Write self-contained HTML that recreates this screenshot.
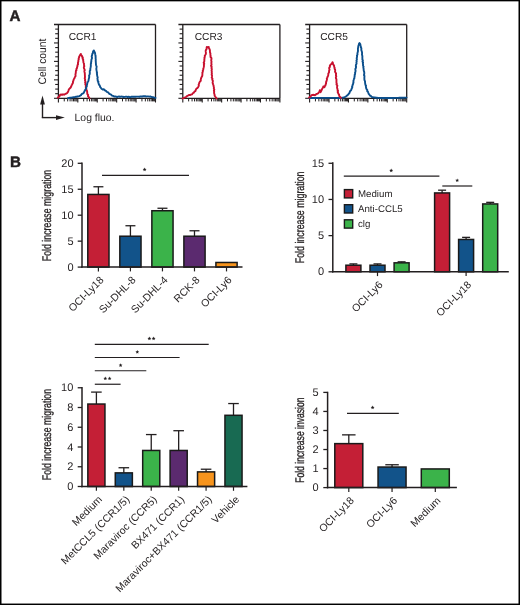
<!DOCTYPE html>
<html><head><meta charset="utf-8"><style>
html,body{margin:0;padding:0;background:#fff;}
body{width:520px;height:605px;overflow:hidden;}
svg{display:block;font-family:"Liberation Sans", sans-serif;}
svg{will-change:transform;}
text{text-rendering:geometricPrecision;}
</style></head><body>
<svg width="520" height="605" viewBox="0 0 520 605">
<rect x="0" y="0" width="520" height="605" fill="#fff"/>
<text x="9.60" y="21.30" font-size="15.2" text-anchor="start" font-weight="bold" fill="#231f20" stroke="#231f20" stroke-width="0.45">A</text>
<line x1="54.00" y1="24.50" x2="155.50" y2="24.50" stroke="#231f20" stroke-width="1.3"/>
<line x1="58.40" y1="24.50" x2="58.40" y2="98.30" stroke="#231f20" stroke-width="1.3"/>
<line x1="155.50" y1="24.50" x2="155.50" y2="98.30" stroke="#231f20" stroke-width="1.3"/>
<line x1="58.40" y1="98.30" x2="155.50" y2="98.30" stroke="#231f20" stroke-width="1.3"/>
<line x1="55.20" y1="29.11" x2="58.40" y2="29.11" stroke="#231f20" stroke-width="1.1"/>
<line x1="55.20" y1="33.73" x2="58.40" y2="33.73" stroke="#231f20" stroke-width="1.1"/>
<line x1="55.20" y1="38.34" x2="58.40" y2="38.34" stroke="#231f20" stroke-width="1.1"/>
<line x1="54.00" y1="42.95" x2="58.40" y2="42.95" stroke="#231f20" stroke-width="1.1"/>
<line x1="55.20" y1="47.56" x2="58.40" y2="47.56" stroke="#231f20" stroke-width="1.1"/>
<line x1="55.20" y1="52.17" x2="58.40" y2="52.17" stroke="#231f20" stroke-width="1.1"/>
<line x1="55.20" y1="56.79" x2="58.40" y2="56.79" stroke="#231f20" stroke-width="1.1"/>
<line x1="54.00" y1="61.40" x2="58.40" y2="61.40" stroke="#231f20" stroke-width="1.1"/>
<line x1="55.20" y1="66.01" x2="58.40" y2="66.01" stroke="#231f20" stroke-width="1.1"/>
<line x1="55.20" y1="70.62" x2="58.40" y2="70.62" stroke="#231f20" stroke-width="1.1"/>
<line x1="55.20" y1="75.24" x2="58.40" y2="75.24" stroke="#231f20" stroke-width="1.1"/>
<line x1="54.00" y1="79.85" x2="58.40" y2="79.85" stroke="#231f20" stroke-width="1.1"/>
<line x1="55.20" y1="84.46" x2="58.40" y2="84.46" stroke="#231f20" stroke-width="1.1"/>
<line x1="55.20" y1="89.08" x2="58.40" y2="89.08" stroke="#231f20" stroke-width="1.1"/>
<line x1="55.20" y1="93.69" x2="58.40" y2="93.69" stroke="#231f20" stroke-width="1.1"/>
<line x1="54.00" y1="98.30" x2="58.40" y2="98.30" stroke="#231f20" stroke-width="1.1"/>
<line x1="58.40" y1="98.30" x2="58.40" y2="102.50" stroke="#231f20" stroke-width="1.1"/>
<line x1="64.25" y1="98.30" x2="64.25" y2="101.40" stroke="#231f20" stroke-width="1.0"/>
<line x1="67.67" y1="98.30" x2="67.67" y2="101.40" stroke="#231f20" stroke-width="1.0"/>
<line x1="70.09" y1="98.30" x2="70.09" y2="101.40" stroke="#231f20" stroke-width="1.0"/>
<line x1="71.97" y1="98.30" x2="71.97" y2="101.40" stroke="#231f20" stroke-width="1.0"/>
<line x1="73.51" y1="98.30" x2="73.51" y2="101.40" stroke="#231f20" stroke-width="1.0"/>
<line x1="74.81" y1="98.30" x2="74.81" y2="101.40" stroke="#231f20" stroke-width="1.0"/>
<line x1="75.94" y1="98.30" x2="75.94" y2="101.40" stroke="#231f20" stroke-width="1.0"/>
<line x1="76.93" y1="98.30" x2="76.93" y2="101.40" stroke="#231f20" stroke-width="1.0"/>
<line x1="77.82" y1="98.30" x2="77.82" y2="102.50" stroke="#231f20" stroke-width="1.1"/>
<line x1="83.67" y1="98.30" x2="83.67" y2="101.40" stroke="#231f20" stroke-width="1.0"/>
<line x1="87.09" y1="98.30" x2="87.09" y2="101.40" stroke="#231f20" stroke-width="1.0"/>
<line x1="89.51" y1="98.30" x2="89.51" y2="101.40" stroke="#231f20" stroke-width="1.0"/>
<line x1="91.39" y1="98.30" x2="91.39" y2="101.40" stroke="#231f20" stroke-width="1.0"/>
<line x1="92.93" y1="98.30" x2="92.93" y2="101.40" stroke="#231f20" stroke-width="1.0"/>
<line x1="94.23" y1="98.30" x2="94.23" y2="101.40" stroke="#231f20" stroke-width="1.0"/>
<line x1="95.36" y1="98.30" x2="95.36" y2="101.40" stroke="#231f20" stroke-width="1.0"/>
<line x1="96.35" y1="98.30" x2="96.35" y2="101.40" stroke="#231f20" stroke-width="1.0"/>
<line x1="97.24" y1="98.30" x2="97.24" y2="102.50" stroke="#231f20" stroke-width="1.1"/>
<line x1="103.09" y1="98.30" x2="103.09" y2="101.40" stroke="#231f20" stroke-width="1.0"/>
<line x1="106.51" y1="98.30" x2="106.51" y2="101.40" stroke="#231f20" stroke-width="1.0"/>
<line x1="108.93" y1="98.30" x2="108.93" y2="101.40" stroke="#231f20" stroke-width="1.0"/>
<line x1="110.81" y1="98.30" x2="110.81" y2="101.40" stroke="#231f20" stroke-width="1.0"/>
<line x1="112.35" y1="98.30" x2="112.35" y2="101.40" stroke="#231f20" stroke-width="1.0"/>
<line x1="113.65" y1="98.30" x2="113.65" y2="101.40" stroke="#231f20" stroke-width="1.0"/>
<line x1="114.78" y1="98.30" x2="114.78" y2="101.40" stroke="#231f20" stroke-width="1.0"/>
<line x1="115.77" y1="98.30" x2="115.77" y2="101.40" stroke="#231f20" stroke-width="1.0"/>
<line x1="116.66" y1="98.30" x2="116.66" y2="102.50" stroke="#231f20" stroke-width="1.1"/>
<line x1="122.51" y1="98.30" x2="122.51" y2="101.40" stroke="#231f20" stroke-width="1.0"/>
<line x1="125.93" y1="98.30" x2="125.93" y2="101.40" stroke="#231f20" stroke-width="1.0"/>
<line x1="128.35" y1="98.30" x2="128.35" y2="101.40" stroke="#231f20" stroke-width="1.0"/>
<line x1="130.23" y1="98.30" x2="130.23" y2="101.40" stroke="#231f20" stroke-width="1.0"/>
<line x1="131.77" y1="98.30" x2="131.77" y2="101.40" stroke="#231f20" stroke-width="1.0"/>
<line x1="133.07" y1="98.30" x2="133.07" y2="101.40" stroke="#231f20" stroke-width="1.0"/>
<line x1="134.20" y1="98.30" x2="134.20" y2="101.40" stroke="#231f20" stroke-width="1.0"/>
<line x1="135.19" y1="98.30" x2="135.19" y2="101.40" stroke="#231f20" stroke-width="1.0"/>
<line x1="136.08" y1="98.30" x2="136.08" y2="102.50" stroke="#231f20" stroke-width="1.1"/>
<line x1="141.93" y1="98.30" x2="141.93" y2="101.40" stroke="#231f20" stroke-width="1.0"/>
<line x1="145.35" y1="98.30" x2="145.35" y2="101.40" stroke="#231f20" stroke-width="1.0"/>
<line x1="147.77" y1="98.30" x2="147.77" y2="101.40" stroke="#231f20" stroke-width="1.0"/>
<line x1="149.65" y1="98.30" x2="149.65" y2="101.40" stroke="#231f20" stroke-width="1.0"/>
<line x1="151.19" y1="98.30" x2="151.19" y2="101.40" stroke="#231f20" stroke-width="1.0"/>
<line x1="152.49" y1="98.30" x2="152.49" y2="101.40" stroke="#231f20" stroke-width="1.0"/>
<line x1="153.62" y1="98.30" x2="153.62" y2="101.40" stroke="#231f20" stroke-width="1.0"/>
<line x1="154.61" y1="98.30" x2="154.61" y2="101.40" stroke="#231f20" stroke-width="1.0"/>
<line x1="155.50" y1="98.30" x2="155.50" y2="102.50" stroke="#231f20" stroke-width="1.1"/>
<line x1="178.40" y1="24.50" x2="279.90" y2="24.50" stroke="#231f20" stroke-width="1.3"/>
<line x1="182.80" y1="24.50" x2="182.80" y2="98.30" stroke="#231f20" stroke-width="1.3"/>
<line x1="279.90" y1="24.50" x2="279.90" y2="98.30" stroke="#231f20" stroke-width="1.3"/>
<line x1="182.80" y1="98.30" x2="279.90" y2="98.30" stroke="#231f20" stroke-width="1.3"/>
<line x1="179.60" y1="29.11" x2="182.80" y2="29.11" stroke="#231f20" stroke-width="1.1"/>
<line x1="179.60" y1="33.73" x2="182.80" y2="33.73" stroke="#231f20" stroke-width="1.1"/>
<line x1="179.60" y1="38.34" x2="182.80" y2="38.34" stroke="#231f20" stroke-width="1.1"/>
<line x1="178.40" y1="42.95" x2="182.80" y2="42.95" stroke="#231f20" stroke-width="1.1"/>
<line x1="179.60" y1="47.56" x2="182.80" y2="47.56" stroke="#231f20" stroke-width="1.1"/>
<line x1="179.60" y1="52.17" x2="182.80" y2="52.17" stroke="#231f20" stroke-width="1.1"/>
<line x1="179.60" y1="56.79" x2="182.80" y2="56.79" stroke="#231f20" stroke-width="1.1"/>
<line x1="178.40" y1="61.40" x2="182.80" y2="61.40" stroke="#231f20" stroke-width="1.1"/>
<line x1="179.60" y1="66.01" x2="182.80" y2="66.01" stroke="#231f20" stroke-width="1.1"/>
<line x1="179.60" y1="70.62" x2="182.80" y2="70.62" stroke="#231f20" stroke-width="1.1"/>
<line x1="179.60" y1="75.24" x2="182.80" y2="75.24" stroke="#231f20" stroke-width="1.1"/>
<line x1="178.40" y1="79.85" x2="182.80" y2="79.85" stroke="#231f20" stroke-width="1.1"/>
<line x1="179.60" y1="84.46" x2="182.80" y2="84.46" stroke="#231f20" stroke-width="1.1"/>
<line x1="179.60" y1="89.08" x2="182.80" y2="89.08" stroke="#231f20" stroke-width="1.1"/>
<line x1="179.60" y1="93.69" x2="182.80" y2="93.69" stroke="#231f20" stroke-width="1.1"/>
<line x1="178.40" y1="98.30" x2="182.80" y2="98.30" stroke="#231f20" stroke-width="1.1"/>
<line x1="182.80" y1="98.30" x2="182.80" y2="102.50" stroke="#231f20" stroke-width="1.1"/>
<line x1="188.65" y1="98.30" x2="188.65" y2="101.40" stroke="#231f20" stroke-width="1.0"/>
<line x1="192.07" y1="98.30" x2="192.07" y2="101.40" stroke="#231f20" stroke-width="1.0"/>
<line x1="194.49" y1="98.30" x2="194.49" y2="101.40" stroke="#231f20" stroke-width="1.0"/>
<line x1="196.37" y1="98.30" x2="196.37" y2="101.40" stroke="#231f20" stroke-width="1.0"/>
<line x1="197.91" y1="98.30" x2="197.91" y2="101.40" stroke="#231f20" stroke-width="1.0"/>
<line x1="199.21" y1="98.30" x2="199.21" y2="101.40" stroke="#231f20" stroke-width="1.0"/>
<line x1="200.34" y1="98.30" x2="200.34" y2="101.40" stroke="#231f20" stroke-width="1.0"/>
<line x1="201.33" y1="98.30" x2="201.33" y2="101.40" stroke="#231f20" stroke-width="1.0"/>
<line x1="202.22" y1="98.30" x2="202.22" y2="102.50" stroke="#231f20" stroke-width="1.1"/>
<line x1="208.07" y1="98.30" x2="208.07" y2="101.40" stroke="#231f20" stroke-width="1.0"/>
<line x1="211.49" y1="98.30" x2="211.49" y2="101.40" stroke="#231f20" stroke-width="1.0"/>
<line x1="213.91" y1="98.30" x2="213.91" y2="101.40" stroke="#231f20" stroke-width="1.0"/>
<line x1="215.79" y1="98.30" x2="215.79" y2="101.40" stroke="#231f20" stroke-width="1.0"/>
<line x1="217.33" y1="98.30" x2="217.33" y2="101.40" stroke="#231f20" stroke-width="1.0"/>
<line x1="218.63" y1="98.30" x2="218.63" y2="101.40" stroke="#231f20" stroke-width="1.0"/>
<line x1="219.76" y1="98.30" x2="219.76" y2="101.40" stroke="#231f20" stroke-width="1.0"/>
<line x1="220.75" y1="98.30" x2="220.75" y2="101.40" stroke="#231f20" stroke-width="1.0"/>
<line x1="221.64" y1="98.30" x2="221.64" y2="102.50" stroke="#231f20" stroke-width="1.1"/>
<line x1="227.49" y1="98.30" x2="227.49" y2="101.40" stroke="#231f20" stroke-width="1.0"/>
<line x1="230.91" y1="98.30" x2="230.91" y2="101.40" stroke="#231f20" stroke-width="1.0"/>
<line x1="233.33" y1="98.30" x2="233.33" y2="101.40" stroke="#231f20" stroke-width="1.0"/>
<line x1="235.21" y1="98.30" x2="235.21" y2="101.40" stroke="#231f20" stroke-width="1.0"/>
<line x1="236.75" y1="98.30" x2="236.75" y2="101.40" stroke="#231f20" stroke-width="1.0"/>
<line x1="238.05" y1="98.30" x2="238.05" y2="101.40" stroke="#231f20" stroke-width="1.0"/>
<line x1="239.18" y1="98.30" x2="239.18" y2="101.40" stroke="#231f20" stroke-width="1.0"/>
<line x1="240.17" y1="98.30" x2="240.17" y2="101.40" stroke="#231f20" stroke-width="1.0"/>
<line x1="241.06" y1="98.30" x2="241.06" y2="102.50" stroke="#231f20" stroke-width="1.1"/>
<line x1="246.91" y1="98.30" x2="246.91" y2="101.40" stroke="#231f20" stroke-width="1.0"/>
<line x1="250.33" y1="98.30" x2="250.33" y2="101.40" stroke="#231f20" stroke-width="1.0"/>
<line x1="252.75" y1="98.30" x2="252.75" y2="101.40" stroke="#231f20" stroke-width="1.0"/>
<line x1="254.63" y1="98.30" x2="254.63" y2="101.40" stroke="#231f20" stroke-width="1.0"/>
<line x1="256.17" y1="98.30" x2="256.17" y2="101.40" stroke="#231f20" stroke-width="1.0"/>
<line x1="257.47" y1="98.30" x2="257.47" y2="101.40" stroke="#231f20" stroke-width="1.0"/>
<line x1="258.60" y1="98.30" x2="258.60" y2="101.40" stroke="#231f20" stroke-width="1.0"/>
<line x1="259.59" y1="98.30" x2="259.59" y2="101.40" stroke="#231f20" stroke-width="1.0"/>
<line x1="260.48" y1="98.30" x2="260.48" y2="102.50" stroke="#231f20" stroke-width="1.1"/>
<line x1="266.33" y1="98.30" x2="266.33" y2="101.40" stroke="#231f20" stroke-width="1.0"/>
<line x1="269.75" y1="98.30" x2="269.75" y2="101.40" stroke="#231f20" stroke-width="1.0"/>
<line x1="272.17" y1="98.30" x2="272.17" y2="101.40" stroke="#231f20" stroke-width="1.0"/>
<line x1="274.05" y1="98.30" x2="274.05" y2="101.40" stroke="#231f20" stroke-width="1.0"/>
<line x1="275.59" y1="98.30" x2="275.59" y2="101.40" stroke="#231f20" stroke-width="1.0"/>
<line x1="276.89" y1="98.30" x2="276.89" y2="101.40" stroke="#231f20" stroke-width="1.0"/>
<line x1="278.02" y1="98.30" x2="278.02" y2="101.40" stroke="#231f20" stroke-width="1.0"/>
<line x1="279.01" y1="98.30" x2="279.01" y2="101.40" stroke="#231f20" stroke-width="1.0"/>
<line x1="279.90" y1="98.30" x2="279.90" y2="102.50" stroke="#231f20" stroke-width="1.1"/>
<line x1="305.20" y1="24.50" x2="406.70" y2="24.50" stroke="#231f20" stroke-width="1.3"/>
<line x1="309.60" y1="24.50" x2="309.60" y2="98.30" stroke="#231f20" stroke-width="1.3"/>
<line x1="406.70" y1="24.50" x2="406.70" y2="98.30" stroke="#231f20" stroke-width="1.3"/>
<line x1="309.60" y1="98.30" x2="406.70" y2="98.30" stroke="#231f20" stroke-width="1.3"/>
<line x1="306.40" y1="29.11" x2="309.60" y2="29.11" stroke="#231f20" stroke-width="1.1"/>
<line x1="306.40" y1="33.73" x2="309.60" y2="33.73" stroke="#231f20" stroke-width="1.1"/>
<line x1="306.40" y1="38.34" x2="309.60" y2="38.34" stroke="#231f20" stroke-width="1.1"/>
<line x1="305.20" y1="42.95" x2="309.60" y2="42.95" stroke="#231f20" stroke-width="1.1"/>
<line x1="306.40" y1="47.56" x2="309.60" y2="47.56" stroke="#231f20" stroke-width="1.1"/>
<line x1="306.40" y1="52.17" x2="309.60" y2="52.17" stroke="#231f20" stroke-width="1.1"/>
<line x1="306.40" y1="56.79" x2="309.60" y2="56.79" stroke="#231f20" stroke-width="1.1"/>
<line x1="305.20" y1="61.40" x2="309.60" y2="61.40" stroke="#231f20" stroke-width="1.1"/>
<line x1="306.40" y1="66.01" x2="309.60" y2="66.01" stroke="#231f20" stroke-width="1.1"/>
<line x1="306.40" y1="70.62" x2="309.60" y2="70.62" stroke="#231f20" stroke-width="1.1"/>
<line x1="306.40" y1="75.24" x2="309.60" y2="75.24" stroke="#231f20" stroke-width="1.1"/>
<line x1="305.20" y1="79.85" x2="309.60" y2="79.85" stroke="#231f20" stroke-width="1.1"/>
<line x1="306.40" y1="84.46" x2="309.60" y2="84.46" stroke="#231f20" stroke-width="1.1"/>
<line x1="306.40" y1="89.08" x2="309.60" y2="89.08" stroke="#231f20" stroke-width="1.1"/>
<line x1="306.40" y1="93.69" x2="309.60" y2="93.69" stroke="#231f20" stroke-width="1.1"/>
<line x1="305.20" y1="98.30" x2="309.60" y2="98.30" stroke="#231f20" stroke-width="1.1"/>
<line x1="309.60" y1="98.30" x2="309.60" y2="102.50" stroke="#231f20" stroke-width="1.1"/>
<line x1="315.45" y1="98.30" x2="315.45" y2="101.40" stroke="#231f20" stroke-width="1.0"/>
<line x1="318.87" y1="98.30" x2="318.87" y2="101.40" stroke="#231f20" stroke-width="1.0"/>
<line x1="321.29" y1="98.30" x2="321.29" y2="101.40" stroke="#231f20" stroke-width="1.0"/>
<line x1="323.17" y1="98.30" x2="323.17" y2="101.40" stroke="#231f20" stroke-width="1.0"/>
<line x1="324.71" y1="98.30" x2="324.71" y2="101.40" stroke="#231f20" stroke-width="1.0"/>
<line x1="326.01" y1="98.30" x2="326.01" y2="101.40" stroke="#231f20" stroke-width="1.0"/>
<line x1="327.14" y1="98.30" x2="327.14" y2="101.40" stroke="#231f20" stroke-width="1.0"/>
<line x1="328.13" y1="98.30" x2="328.13" y2="101.40" stroke="#231f20" stroke-width="1.0"/>
<line x1="329.02" y1="98.30" x2="329.02" y2="102.50" stroke="#231f20" stroke-width="1.1"/>
<line x1="334.87" y1="98.30" x2="334.87" y2="101.40" stroke="#231f20" stroke-width="1.0"/>
<line x1="338.29" y1="98.30" x2="338.29" y2="101.40" stroke="#231f20" stroke-width="1.0"/>
<line x1="340.71" y1="98.30" x2="340.71" y2="101.40" stroke="#231f20" stroke-width="1.0"/>
<line x1="342.59" y1="98.30" x2="342.59" y2="101.40" stroke="#231f20" stroke-width="1.0"/>
<line x1="344.13" y1="98.30" x2="344.13" y2="101.40" stroke="#231f20" stroke-width="1.0"/>
<line x1="345.43" y1="98.30" x2="345.43" y2="101.40" stroke="#231f20" stroke-width="1.0"/>
<line x1="346.56" y1="98.30" x2="346.56" y2="101.40" stroke="#231f20" stroke-width="1.0"/>
<line x1="347.55" y1="98.30" x2="347.55" y2="101.40" stroke="#231f20" stroke-width="1.0"/>
<line x1="348.44" y1="98.30" x2="348.44" y2="102.50" stroke="#231f20" stroke-width="1.1"/>
<line x1="354.29" y1="98.30" x2="354.29" y2="101.40" stroke="#231f20" stroke-width="1.0"/>
<line x1="357.71" y1="98.30" x2="357.71" y2="101.40" stroke="#231f20" stroke-width="1.0"/>
<line x1="360.13" y1="98.30" x2="360.13" y2="101.40" stroke="#231f20" stroke-width="1.0"/>
<line x1="362.01" y1="98.30" x2="362.01" y2="101.40" stroke="#231f20" stroke-width="1.0"/>
<line x1="363.55" y1="98.30" x2="363.55" y2="101.40" stroke="#231f20" stroke-width="1.0"/>
<line x1="364.85" y1="98.30" x2="364.85" y2="101.40" stroke="#231f20" stroke-width="1.0"/>
<line x1="365.98" y1="98.30" x2="365.98" y2="101.40" stroke="#231f20" stroke-width="1.0"/>
<line x1="366.97" y1="98.30" x2="366.97" y2="101.40" stroke="#231f20" stroke-width="1.0"/>
<line x1="367.86" y1="98.30" x2="367.86" y2="102.50" stroke="#231f20" stroke-width="1.1"/>
<line x1="373.71" y1="98.30" x2="373.71" y2="101.40" stroke="#231f20" stroke-width="1.0"/>
<line x1="377.13" y1="98.30" x2="377.13" y2="101.40" stroke="#231f20" stroke-width="1.0"/>
<line x1="379.55" y1="98.30" x2="379.55" y2="101.40" stroke="#231f20" stroke-width="1.0"/>
<line x1="381.43" y1="98.30" x2="381.43" y2="101.40" stroke="#231f20" stroke-width="1.0"/>
<line x1="382.97" y1="98.30" x2="382.97" y2="101.40" stroke="#231f20" stroke-width="1.0"/>
<line x1="384.27" y1="98.30" x2="384.27" y2="101.40" stroke="#231f20" stroke-width="1.0"/>
<line x1="385.40" y1="98.30" x2="385.40" y2="101.40" stroke="#231f20" stroke-width="1.0"/>
<line x1="386.39" y1="98.30" x2="386.39" y2="101.40" stroke="#231f20" stroke-width="1.0"/>
<line x1="387.28" y1="98.30" x2="387.28" y2="102.50" stroke="#231f20" stroke-width="1.1"/>
<line x1="393.13" y1="98.30" x2="393.13" y2="101.40" stroke="#231f20" stroke-width="1.0"/>
<line x1="396.55" y1="98.30" x2="396.55" y2="101.40" stroke="#231f20" stroke-width="1.0"/>
<line x1="398.97" y1="98.30" x2="398.97" y2="101.40" stroke="#231f20" stroke-width="1.0"/>
<line x1="400.85" y1="98.30" x2="400.85" y2="101.40" stroke="#231f20" stroke-width="1.0"/>
<line x1="402.39" y1="98.30" x2="402.39" y2="101.40" stroke="#231f20" stroke-width="1.0"/>
<line x1="403.69" y1="98.30" x2="403.69" y2="101.40" stroke="#231f20" stroke-width="1.0"/>
<line x1="404.82" y1="98.30" x2="404.82" y2="101.40" stroke="#231f20" stroke-width="1.0"/>
<line x1="405.81" y1="98.30" x2="405.81" y2="101.40" stroke="#231f20" stroke-width="1.0"/>
<line x1="406.70" y1="98.30" x2="406.70" y2="102.50" stroke="#231f20" stroke-width="1.1"/>
<text x="68.70" y="40.00" font-size="10.2" text-anchor="start" font-weight="normal" fill="#231f20" >CCR1</text>
<text x="194.70" y="39.80" font-size="10.2" text-anchor="start" font-weight="normal" fill="#231f20" >CCR3</text>
<text x="320.20" y="40.00" font-size="10.2" text-anchor="start" font-weight="normal" fill="#231f20" >CCR5</text>
<path d="M57.80,97.60 L58.85,96.96 L59.58,96.05 L60.00,94.90 L61.12,94.50 L62.25,94.90 L63.04,94.31 L64.09,94.73 L64.90,94.20 L66.15,93.73 L67.20,92.90 L67.98,91.83 L68.50,90.60 L68.79,89.58 L69.40,88.70 L70.70,87.50 L71.24,86.44 L71.60,85.30 L72.15,84.44 L72.60,83.53 L73.00,82.60 L72.93,81.63 L73.39,80.78 L73.58,79.88 L73.90,79.00 L74.51,78.21 L74.75,77.25 L75.40,76.47 L75.57,75.57 L75.43,74.60 L75.60,73.70 L75.78,72.79 L75.85,71.85 L75.87,70.90 L76.50,70.10 L76.31,69.10 L76.92,68.29 L77.02,67.36 L77.40,66.50 L77.46,65.32 L78.08,64.22 L77.90,63.00 L78.15,62.11 L78.40,61.21 L78.34,60.24 L78.80,59.40 L78.61,58.40 L79.10,57.56 L79.16,56.62 L79.70,55.80 L80.26,54.85 L80.80,53.90 L80.96,55.07 L81.90,55.80 L82.08,56.75 L82.82,57.50 L82.54,58.62 L83.20,59.40 L83.12,60.35 L83.35,61.24 L83.38,62.17 L83.69,63.05 L84.10,63.90 L83.90,64.97 L84.35,66.01 L83.85,67.10 L83.92,68.16 L84.40,69.20 L84.79,70.07 L84.35,71.02 L84.47,71.92 L84.75,72.80 L84.85,73.91 L84.85,75.03 L84.95,76.14 L85.00,77.25 L84.70,78.32 L85.17,79.33 L84.95,80.40 L85.46,81.41 L85.07,82.49 L85.50,83.50 L85.30,84.46 L85.83,85.29 L85.89,86.21 L85.73,87.16 L86.05,88.03 L86.40,88.90 L86.62,90.00 L87.07,91.05 L87.19,92.17 L87.25,93.30 L87.42,94.26 L88.21,94.99 L87.92,96.13 L88.60,96.90 L89.50,98.20" fill="none" stroke="#c8102e" stroke-width="1.9" stroke-linejoin="round" stroke-linecap="round"/>
<path d="M68.00,98.20 L69.07,98.00 L70.13,97.80 L71.20,97.60 L72.38,97.43 L73.57,97.27 L74.75,97.10 L75.61,96.77 L76.53,96.78 L77.40,96.50 L78.30,96.40 L79.23,96.02 L80.13,95.60 L81.00,95.10 L81.57,94.30 L82.28,93.67 L83.20,93.30 L83.97,92.51 L84.28,91.42 L85.00,90.60 L85.20,89.67 L85.98,88.96 L86.03,87.97 L86.40,87.10 L86.81,86.25 L86.81,85.30 L87.12,84.42 L87.25,83.50 L87.39,82.53 L88.00,81.73 L88.47,80.88 L88.60,79.90 L88.79,78.84 L89.10,77.80 L89.24,76.74 L89.06,75.62 L89.50,74.60 L89.78,73.72 L89.81,72.81 L89.77,71.88 L89.74,70.96 L90.36,70.13 L90.26,69.20 L90.40,68.30 L90.63,67.21 L90.83,66.12 L90.83,65.01 L90.80,63.90 L91.19,63.04 L91.02,62.09 L91.40,61.23 L91.33,60.29 L91.50,59.40 L91.90,58.54 L92.00,57.63 L91.68,56.66 L91.84,55.77 L92.20,54.90 L92.26,53.98 L92.92,53.22 L92.84,52.27 L93.10,51.40 L93.90,50.50 L94.28,51.41 L94.80,52.25 L95.09,53.17 L95.15,54.13 L95.39,55.05 L95.50,56.00 L95.66,56.99 L95.60,58.00 L95.67,59.00 L95.80,60.00 L95.65,60.95 L95.87,61.86 L95.81,62.80 L95.94,63.72 L95.94,64.65 L96.22,65.56 L96.61,66.46 L96.50,67.40 L96.36,68.34 L96.37,69.27 L96.48,70.19 L96.76,71.10 L96.75,72.04 L97.12,72.94 L96.83,73.89 L97.10,74.80 L97.18,75.79 L97.47,76.74 L97.72,77.71 L97.37,78.75 L97.70,79.70 L97.65,80.75 L98.42,81.60 L98.24,82.68 L98.71,83.61 L98.90,84.60 L99.55,85.27 L99.96,86.09 L100.19,87.01 L100.80,87.70 L101.54,88.76 L102.60,89.50 L103.80,89.30 L105.10,90.50 L106.06,90.84 L106.66,91.69 L107.50,92.20 L108.50,92.65 L109.08,93.64 L110.00,94.20 L111.08,94.68 L111.96,95.53 L113.10,95.90 L114.06,96.45 L115.17,96.44 L116.20,96.70 L117.15,97.02 L118.11,96.63 L119.07,96.51 L120.02,96.85 L120.98,96.53 L121.94,96.65 L122.89,96.80 L123.84,96.94 L124.80,96.90 L125.78,96.67 L126.75,96.59 L127.74,97.06 L128.72,96.71 L129.71,97.08 L130.68,97.02 L131.66,96.69 L132.64,96.72 L133.62,96.73 L134.60,96.70 L135.56,96.74 L136.51,96.67 L137.47,96.60 L138.43,96.59 L139.39,96.74 L140.33,96.44 L141.29,96.35 L142.25,96.48 L143.20,96.30 L144.20,96.16 L145.20,96.22 L146.19,96.65 L147.20,96.39 L148.20,96.40 L149.18,96.59 L150.21,96.43 L151.15,96.83 L152.12,97.04 L153.10,97.20 L154.30,97.55 L155.50,97.90" fill="none" stroke="#0b4f8c" stroke-width="1.9" stroke-linejoin="round" stroke-linecap="round"/>
<path d="M182.50,98.50 L183.38,98.12 L184.25,97.75 L185.12,97.38 L186.00,97.00 L186.86,96.11 L188.00,95.60 L188.90,94.96 L190.00,95.00 L190.97,94.61 L192.00,94.40 L192.74,93.27 L193.90,92.60 L194.37,91.57 L195.40,91.10 L195.82,89.82 L196.40,88.60 L197.33,88.20 L197.92,87.46 L198.40,86.60 L198.86,85.68 L198.61,84.59 L199.11,83.68 L199.30,82.70 L199.89,81.58 L200.80,80.70 L200.76,79.63 L200.96,78.61 L201.30,77.64 L201.80,76.70 L202.31,75.75 L202.34,74.74 L202.45,73.73 L202.30,72.70 L202.89,71.82 L202.71,70.68 L203.30,69.80 L203.23,68.78 L203.61,67.81 L203.81,66.82 L204.02,65.83 L203.80,64.80 L204.24,63.83 L203.63,62.76 L204.19,61.81 L204.35,60.82 L204.30,59.80 L204.51,58.82 L204.42,57.78 L204.88,56.86 L204.74,55.81 L205.30,54.90 L205.83,53.95 L205.91,52.95 L205.76,51.91 L205.68,50.88 L206.00,49.90 L206.62,49.03 L206.60,47.98 L206.80,47.00 L207.80,47.34 L208.80,47.00 L208.84,48.07 L209.46,48.94 L209.80,49.90 L209.98,50.89 L209.91,51.91 L210.16,52.89 L210.50,53.87 L210.30,54.90 L210.67,55.84 L210.42,56.92 L211.30,57.76 L211.50,58.74 L211.30,59.80 L211.21,60.80 L211.55,61.80 L211.34,62.80 L211.43,63.80 L211.57,64.80 L211.00,65.81 L211.75,66.79 L211.50,67.80 L211.62,68.78 L211.85,69.75 L211.50,70.74 L211.86,71.71 L211.70,72.70 L211.90,73.69 L211.62,74.72 L212.08,75.69 L211.93,76.70 L211.69,77.73 L212.49,78.67 L212.20,79.70 L212.79,80.60 L212.84,81.61 L212.57,82.69 L212.90,83.64 L213.20,84.60 L213.58,85.57 L213.64,86.58 L213.92,87.56 L213.81,88.59 L214.32,89.54 L213.88,90.63 L214.20,91.60 L214.05,92.65 L214.20,93.64 L214.59,94.58 L214.59,95.60 L215.20,96.50 L215.95,97.50 L216.70,98.50" fill="none" stroke="#c8102e" stroke-width="1.9" stroke-linejoin="round" stroke-linecap="round"/>
<path d="M309.50,98.00 L310.45,97.99 L311.41,97.98 L312.36,97.97 L313.32,97.96 L314.27,97.95 L315.23,97.95 L316.18,97.94 L317.14,97.93 L318.09,97.92 L319.05,97.91 L320.00,97.90 L320.94,97.90 L321.88,97.90 L322.81,97.90 L323.75,97.90 L324.69,97.90 L325.62,97.90 L326.56,97.90 L327.50,97.90 L328.44,97.90 L329.38,97.90 L330.31,97.90 L331.25,97.90 L332.19,97.90 L333.12,97.90 L334.06,97.90 L335.00,97.90 L336.00,97.92 L337.00,97.94 L338.00,97.96 L339.00,97.98 L340.00,98.00 L341.02,97.88 L342.05,97.75 L343.08,97.62 L344.10,97.50 L344.92,97.04 L345.73,96.57 L346.52,96.07 L347.20,95.40 L348.03,94.82 L348.56,93.99 L349.27,93.31 L349.70,92.40 L349.87,91.45 L350.52,90.75 L351.20,90.06 L351.46,89.16 L351.80,88.30 L352.28,87.50 L352.08,86.50 L352.53,85.69 L352.65,84.79 L353.08,83.97 L353.30,83.10 L353.53,82.09 L353.38,81.01 L353.68,80.02 L353.90,79.01 L354.46,78.06 L354.40,77.00 L354.76,75.99 L354.60,74.88 L355.18,73.91 L354.99,72.80 L355.40,71.80 L355.57,70.79 L355.38,69.74 L355.40,68.71 L356.02,67.74 L355.90,66.70 L355.85,65.65 L355.98,64.63 L356.56,63.66 L356.40,62.60 L356.70,61.59 L356.42,60.54 L356.90,59.55 L356.70,58.50 L356.86,57.48 L357.09,56.47 L356.94,55.42 L357.52,54.46 L357.40,53.40 L357.64,52.39 L357.93,51.38 L358.01,50.35 L357.90,49.30 L357.98,48.25 L358.22,47.23 L358.30,46.19 L358.70,45.20 L358.90,44.07 L359.50,43.10 L360.24,44.04 L360.50,45.20 L360.82,46.20 L360.84,47.26 L361.39,48.22 L361.30,49.30 L361.40,50.35 L361.80,51.33 L362.01,52.35 L362.10,53.40 L361.97,54.43 L362.23,55.44 L362.39,56.45 L362.35,57.48 L362.40,58.50 L362.39,59.55 L362.90,60.54 L362.47,61.63 L363.15,62.60 L362.83,63.68 L363.10,64.70 L363.01,65.74 L363.62,66.70 L363.28,67.77 L363.65,68.76 L363.64,69.79 L363.80,70.80 L364.19,71.80 L364.27,72.84 L364.29,73.88 L363.93,74.96 L364.48,75.95 L364.40,77.00 L364.36,78.03 L364.38,79.06 L364.49,80.08 L364.96,81.06 L365.07,82.07 L365.10,83.10 L365.31,83.99 L365.40,84.91 L366.01,85.70 L365.87,86.68 L366.07,87.57 L366.26,88.47 L366.70,89.30 L367.35,90.11 L367.25,91.25 L368.12,91.96 L368.39,92.94 L368.70,93.90 L369.43,94.72 L370.07,95.63 L371.09,96.16 L371.80,97.00 L372.82,97.17 L373.85,97.35 L374.88,97.53 L375.90,97.70 L376.92,97.78 L377.95,97.85 L378.98,97.92 L380.00,98.00 L380.91,98.00 L381.82,98.00 L382.73,98.00 L383.64,98.00 L384.55,98.00 L385.45,98.00 L386.36,98.00 L387.27,98.00 L388.18,98.00 L389.09,98.00 L390.00,98.00 L390.91,97.98 L391.82,97.96 L392.73,97.95 L393.64,97.93 L394.55,97.91 L395.45,97.89 L396.36,97.87 L397.27,97.85 L398.18,97.84 L399.09,97.82 L400.00,97.80 L400.93,97.77 L401.86,97.74 L402.79,97.71 L403.71,97.69 L404.64,97.66 L405.57,97.63 L406.50,97.60" fill="none" stroke="#0b4f8c" stroke-width="1.9" stroke-linejoin="round" stroke-linecap="round"/>
<path d="M309.10,97.50 L310.05,96.92 L310.84,96.17 L311.40,95.20 L312.90,94.80 L314.05,94.99 L315.20,95.20 L315.85,94.52 L316.49,93.82 L317.50,93.70 L318.27,93.17 L318.81,92.41 L319.50,91.80 L319.80,90.20 L319.98,91.29 L320.60,92.20 L321.40,90.60 L321.85,89.40 L322.50,88.30 L323.12,87.44 L323.30,86.40 L324.50,87.20 L324.68,86.22 L325.48,85.50 L325.60,84.50 L326.07,83.52 L326.06,82.41 L326.40,81.40 L326.65,80.49 L327.00,79.60 L326.79,78.58 L327.33,77.73 L327.50,76.80 L328.16,75.74 L328.30,74.50 L328.29,73.48 L328.97,72.60 L329.06,71.61 L329.10,70.60 L329.55,69.73 L329.23,68.74 L329.16,67.78 L329.93,66.96 L329.80,66.00 L330.60,64.50 L331.80,63.70 L332.50,62.20 L332.90,62.90 L332.94,63.96 L333.55,64.84 L334.15,65.72 L334.10,66.80 L334.64,67.67 L334.53,68.73 L335.11,69.60 L335.20,70.60 L335.00,71.66 L335.52,72.57 L336.06,73.47 L336.00,74.50 L335.94,75.43 L336.29,76.33 L335.85,77.29 L335.95,78.21 L336.40,79.10 L336.47,80.02 L336.43,80.95 L336.46,81.88 L336.45,82.80 L336.80,83.70 L336.45,84.66 L337.38,85.50 L337.16,86.45 L337.03,87.39 L337.20,88.30 L337.56,89.16 L337.49,90.12 L338.11,90.93 L337.60,91.97 L338.09,92.80 L338.30,93.70 L339.11,94.58 L339.17,95.83 L339.80,96.80 L341.00,97.90" fill="none" stroke="#c8102e" stroke-width="1.9" stroke-linejoin="round" stroke-linecap="round"/>
<text transform="translate(45.9,84.4) rotate(-90)" font-size="11" fill="#231f20" textLength="45.8" lengthAdjust="spacingAndGlyphs">Cell count</text>
<line x1="42.50" y1="117.60" x2="42.50" y2="103.50" stroke="#231f20" stroke-width="1.4"/>
<line x1="41.80" y1="117.60" x2="57.50" y2="117.60" stroke="#231f20" stroke-width="1.4"/>
<path d="M42.5,95.6 L44.9,104.6 L40.1,104.6Z" fill="#231f20"/>
<path d="M64.8,117.6 L56.0,115.3 L56.0,119.9Z" fill="#231f20"/>
<text x="74.60" y="121.00" font-size="10.4" text-anchor="start" font-weight="normal" fill="#231f20" >Log fluo.</text>
<text x="10.00" y="166.60" font-size="15.2" text-anchor="start" font-weight="bold" fill="#231f20" stroke="#231f20" stroke-width="0.45">B</text>
<line x1="98.40" y1="186.76" x2="98.40" y2="194.44" stroke="#231f20" stroke-width="1.3"/>
<line x1="93.40" y1="186.76" x2="103.40" y2="186.76" stroke="#231f20" stroke-width="1.3"/>
<rect x="87.80" y="194.44" width="21.20" height="72.66" fill="#c41f36" stroke="#1a1a1a" stroke-width="1.5"/>
<line x1="130.43" y1="225.74" x2="130.43" y2="236.22" stroke="#231f20" stroke-width="1.3"/>
<line x1="125.43" y1="225.74" x2="135.43" y2="225.74" stroke="#231f20" stroke-width="1.3"/>
<rect x="119.83" y="236.22" width="21.20" height="30.88" fill="#12538a" stroke="#1a1a1a" stroke-width="1.5"/>
<line x1="162.46" y1="208.25" x2="162.46" y2="210.74" stroke="#231f20" stroke-width="1.3"/>
<line x1="157.46" y1="208.25" x2="167.46" y2="208.25" stroke="#231f20" stroke-width="1.3"/>
<rect x="151.86" y="210.74" width="21.20" height="56.36" fill="#3bb34a" stroke="#1a1a1a" stroke-width="1.5"/>
<line x1="194.49" y1="230.77" x2="194.49" y2="236.22" stroke="#231f20" stroke-width="1.3"/>
<line x1="189.49" y1="230.77" x2="199.49" y2="230.77" stroke="#231f20" stroke-width="1.3"/>
<rect x="183.89" y="236.22" width="21.20" height="30.88" fill="#5b2a6f" stroke="#1a1a1a" stroke-width="1.5"/>
<rect x="215.92" y="262.48" width="21.20" height="4.62" fill="#f7941d" stroke="#1a1a1a" stroke-width="1.5"/>
<line x1="82.00" y1="162.55" x2="82.00" y2="267.85" stroke="#231f20" stroke-width="1.5"/>
<line x1="81.25" y1="267.10" x2="242.50" y2="267.10" stroke="#231f20" stroke-width="1.5"/>
<line x1="77.70" y1="267.10" x2="82.00" y2="267.10" stroke="#231f20" stroke-width="1.3"/>
<text x="73.60" y="270.60" font-size="11" text-anchor="end" font-weight="normal" fill="#231f20" >0</text>
<line x1="77.70" y1="241.15" x2="82.00" y2="241.15" stroke="#231f20" stroke-width="1.3"/>
<text x="73.60" y="244.65" font-size="11" text-anchor="end" font-weight="normal" fill="#231f20" >5</text>
<line x1="77.70" y1="215.20" x2="82.00" y2="215.20" stroke="#231f20" stroke-width="1.3"/>
<text x="73.60" y="218.70" font-size="11" text-anchor="end" font-weight="normal" fill="#231f20" >10</text>
<line x1="77.70" y1="189.25" x2="82.00" y2="189.25" stroke="#231f20" stroke-width="1.3"/>
<text x="73.60" y="192.75" font-size="11" text-anchor="end" font-weight="normal" fill="#231f20" >15</text>
<line x1="77.70" y1="163.30" x2="82.00" y2="163.30" stroke="#231f20" stroke-width="1.3"/>
<text x="73.60" y="166.80" font-size="11" text-anchor="end" font-weight="normal" fill="#231f20" >20</text>
<line x1="98.40" y1="267.10" x2="98.40" y2="271.40" stroke="#231f20" stroke-width="1.2"/>
<line x1="130.43" y1="267.10" x2="130.43" y2="271.40" stroke="#231f20" stroke-width="1.2"/>
<line x1="162.46" y1="267.10" x2="162.46" y2="271.40" stroke="#231f20" stroke-width="1.2"/>
<line x1="194.49" y1="267.10" x2="194.49" y2="271.40" stroke="#231f20" stroke-width="1.2"/>
<line x1="226.52" y1="267.10" x2="226.52" y2="271.40" stroke="#231f20" stroke-width="1.2"/>
<text transform="translate(104.30,280.70) rotate(-45)" font-size="10.5" text-anchor="end" fill="#231f20">OCI-Ly18</text>
<text transform="translate(136.33,280.70) rotate(-45)" font-size="10.5" text-anchor="end" fill="#231f20">Su-DHL-8</text>
<text transform="translate(168.36,280.70) rotate(-45)" font-size="10.5" text-anchor="end" fill="#231f20">Su-DHL-4</text>
<text transform="translate(200.39,280.70) rotate(-45)" font-size="10.5" text-anchor="end" fill="#231f20">RCK-8</text>
<text transform="translate(232.42,280.70) rotate(-45)" font-size="10.5" text-anchor="end" fill="#231f20">OCI-Ly6</text>
<text transform="translate(51.199999999999996,261.2) rotate(-90)" font-size="12.5" fill="#231f20" stroke="#231f20" stroke-width="0.3" textLength="91.4" lengthAdjust="spacingAndGlyphs">Fold increase migration</text>
<line x1="102.00" y1="175.30" x2="189.00" y2="175.30" stroke="#231f20" stroke-width="1.2"/>
<path d="M144.60,167.60 L145.13,168.87 L146.50,168.98 L145.46,169.88 L145.78,171.22 L144.60,170.50 L143.42,171.22 L143.74,169.88 L142.70,168.98 L144.07,168.87Z" fill="#231f20"/>
<line x1="353.40" y1="263.91" x2="353.40" y2="265.22" stroke="#231f20" stroke-width="1.3"/>
<line x1="349.40" y1="263.91" x2="357.40" y2="263.91" stroke="#231f20" stroke-width="1.3"/>
<rect x="345.90" y="265.22" width="15.00" height="6.58" fill="#c41f36" stroke="#1a1a1a" stroke-width="1.5"/>
<line x1="442.10" y1="190.19" x2="442.10" y2="192.94" stroke="#231f20" stroke-width="1.3"/>
<line x1="438.10" y1="190.19" x2="446.10" y2="190.19" stroke="#231f20" stroke-width="1.3"/>
<rect x="434.60" y="192.94" width="15.00" height="78.86" fill="#c41f36" stroke="#1a1a1a" stroke-width="1.5"/>
<line x1="377.50" y1="263.91" x2="377.50" y2="265.22" stroke="#231f20" stroke-width="1.3"/>
<line x1="373.50" y1="263.91" x2="381.50" y2="263.91" stroke="#231f20" stroke-width="1.3"/>
<rect x="370.00" y="265.22" width="15.00" height="6.58" fill="#12538a" stroke="#1a1a1a" stroke-width="1.5"/>
<line x1="466.10" y1="237.36" x2="466.10" y2="239.46" stroke="#231f20" stroke-width="1.3"/>
<line x1="462.10" y1="237.36" x2="470.10" y2="237.36" stroke="#231f20" stroke-width="1.3"/>
<rect x="458.60" y="239.46" width="15.00" height="32.34" fill="#12538a" stroke="#1a1a1a" stroke-width="1.5"/>
<line x1="401.60" y1="261.82" x2="401.60" y2="262.83" stroke="#231f20" stroke-width="1.3"/>
<line x1="397.60" y1="261.82" x2="405.60" y2="261.82" stroke="#231f20" stroke-width="1.3"/>
<rect x="394.10" y="262.83" width="15.00" height="8.97" fill="#3bb34a" stroke="#1a1a1a" stroke-width="1.5"/>
<line x1="490.20" y1="202.34" x2="490.20" y2="203.94" stroke="#231f20" stroke-width="1.3"/>
<line x1="486.20" y1="202.34" x2="494.20" y2="202.34" stroke="#231f20" stroke-width="1.3"/>
<rect x="482.70" y="203.94" width="15.00" height="67.86" fill="#3bb34a" stroke="#1a1a1a" stroke-width="1.5"/>
<line x1="332.80" y1="162.25" x2="332.80" y2="272.55" stroke="#231f20" stroke-width="1.5"/>
<line x1="332.05" y1="271.80" x2="508.80" y2="271.80" stroke="#231f20" stroke-width="1.5"/>
<line x1="328.50" y1="271.80" x2="332.80" y2="271.80" stroke="#231f20" stroke-width="1.3"/>
<text x="324.10" y="275.30" font-size="11" text-anchor="end" font-weight="normal" fill="#231f20" >0</text>
<line x1="328.50" y1="235.62" x2="332.80" y2="235.62" stroke="#231f20" stroke-width="1.3"/>
<text x="324.10" y="239.12" font-size="11" text-anchor="end" font-weight="normal" fill="#231f20" >5</text>
<line x1="328.50" y1="199.45" x2="332.80" y2="199.45" stroke="#231f20" stroke-width="1.3"/>
<text x="324.10" y="202.95" font-size="11" text-anchor="end" font-weight="normal" fill="#231f20" >10</text>
<line x1="328.50" y1="163.28" x2="332.80" y2="163.28" stroke="#231f20" stroke-width="1.3"/>
<text x="324.10" y="166.78" font-size="11" text-anchor="end" font-weight="normal" fill="#231f20" >15</text>
<line x1="377.50" y1="271.80" x2="377.50" y2="276.10" stroke="#231f20" stroke-width="1.2"/>
<line x1="466.10" y1="271.80" x2="466.10" y2="276.10" stroke="#231f20" stroke-width="1.2"/>
<text transform="translate(383.40,285.40) rotate(-45)" font-size="10.5" text-anchor="end" fill="#231f20">OCI-Ly6</text>
<text transform="translate(472.00,285.40) rotate(-45)" font-size="10.5" text-anchor="end" fill="#231f20">OCI-Ly18</text>
<text transform="translate(304.29999999999995,263.2) rotate(-90)" font-size="12.5" fill="#231f20" stroke="#231f20" stroke-width="0.3" textLength="91.7" lengthAdjust="spacingAndGlyphs">Fold increase migration</text>
<line x1="343.80" y1="176.20" x2="439.40" y2="176.20" stroke="#231f20" stroke-width="1.2"/>
<path d="M391.20,168.60 L391.73,169.87 L393.10,169.98 L392.06,170.88 L392.38,172.22 L391.20,171.50 L390.02,172.22 L390.34,170.88 L389.30,169.98 L390.67,169.87Z" fill="#231f20"/>
<line x1="442.30" y1="186.00" x2="472.30" y2="186.00" stroke="#231f20" stroke-width="1.2"/>
<path d="M457.20,178.40 L457.73,179.67 L459.10,179.78 L458.06,180.68 L458.38,182.02 L457.20,181.30 L456.02,182.02 L456.34,180.68 L455.30,179.78 L456.67,179.67Z" fill="#231f20"/>
<rect x="344.4" y="189.60" width="8.3" height="8.3" fill="#c41f36" stroke="#1a1a1a" stroke-width="1.4"/>
<text x="358.00" y="196.70" font-size="9.7" text-anchor="start" font-weight="normal" fill="#231f20" >Medium</text>
<rect x="344.4" y="204.70" width="8.3" height="8.3" fill="#12538a" stroke="#1a1a1a" stroke-width="1.4"/>
<text x="358.00" y="211.80" font-size="9.7" text-anchor="start" font-weight="normal" fill="#231f20" >Anti-CCL5</text>
<rect x="344.4" y="219.80" width="8.3" height="8.3" fill="#3bb34a" stroke="#1a1a1a" stroke-width="1.4"/>
<text x="358.00" y="226.90" font-size="9.7" text-anchor="start" font-weight="normal" fill="#231f20" >clg</text>
<line x1="96.40" y1="392.10" x2="96.40" y2="404.04" stroke="#231f20" stroke-width="1.3"/>
<line x1="91.10" y1="392.10" x2="101.70" y2="392.10" stroke="#231f20" stroke-width="1.3"/>
<rect x="87.85" y="404.04" width="17.10" height="82.46" fill="#c41f36" stroke="#1a1a1a" stroke-width="1.5"/>
<line x1="123.82" y1="467.74" x2="123.82" y2="472.87" stroke="#231f20" stroke-width="1.3"/>
<line x1="118.52" y1="467.74" x2="129.12" y2="467.74" stroke="#231f20" stroke-width="1.3"/>
<rect x="115.27" y="472.87" width="17.10" height="13.63" fill="#12538a" stroke="#1a1a1a" stroke-width="1.5"/>
<line x1="151.24" y1="434.56" x2="151.24" y2="450.46" stroke="#231f20" stroke-width="1.3"/>
<line x1="145.94" y1="434.56" x2="156.54" y2="434.56" stroke="#231f20" stroke-width="1.3"/>
<rect x="142.69" y="450.46" width="17.10" height="36.04" fill="#3bb34a" stroke="#1a1a1a" stroke-width="1.5"/>
<line x1="178.66" y1="430.71" x2="178.66" y2="450.46" stroke="#231f20" stroke-width="1.3"/>
<line x1="173.36" y1="430.71" x2="183.96" y2="430.71" stroke="#231f20" stroke-width="1.3"/>
<rect x="170.11" y="450.46" width="17.10" height="36.04" fill="#5b2a6f" stroke="#1a1a1a" stroke-width="1.5"/>
<line x1="206.08" y1="469.22" x2="206.08" y2="471.88" stroke="#231f20" stroke-width="1.3"/>
<line x1="200.78" y1="469.22" x2="211.38" y2="469.22" stroke="#231f20" stroke-width="1.3"/>
<rect x="197.53" y="471.88" width="17.10" height="14.62" fill="#f7941d" stroke="#1a1a1a" stroke-width="1.5"/>
<line x1="233.50" y1="403.55" x2="233.50" y2="415.30" stroke="#231f20" stroke-width="1.3"/>
<line x1="228.20" y1="403.55" x2="238.80" y2="403.55" stroke="#231f20" stroke-width="1.3"/>
<rect x="224.95" y="415.30" width="17.10" height="71.20" fill="#186a52" stroke="#1a1a1a" stroke-width="1.5"/>
<line x1="82.00" y1="387.05" x2="82.00" y2="487.25" stroke="#231f20" stroke-width="1.5"/>
<line x1="81.25" y1="486.50" x2="247.40" y2="486.50" stroke="#231f20" stroke-width="1.5"/>
<line x1="77.70" y1="486.50" x2="82.00" y2="486.50" stroke="#231f20" stroke-width="1.3"/>
<text x="73.30" y="490.00" font-size="11" text-anchor="end" font-weight="normal" fill="#231f20" >0</text>
<line x1="77.70" y1="466.75" x2="82.00" y2="466.75" stroke="#231f20" stroke-width="1.3"/>
<text x="73.30" y="470.25" font-size="11" text-anchor="end" font-weight="normal" fill="#231f20" >2</text>
<line x1="77.70" y1="447.00" x2="82.00" y2="447.00" stroke="#231f20" stroke-width="1.3"/>
<text x="73.30" y="450.50" font-size="11" text-anchor="end" font-weight="normal" fill="#231f20" >4</text>
<line x1="77.70" y1="427.25" x2="82.00" y2="427.25" stroke="#231f20" stroke-width="1.3"/>
<text x="73.30" y="430.75" font-size="11" text-anchor="end" font-weight="normal" fill="#231f20" >6</text>
<line x1="77.70" y1="407.50" x2="82.00" y2="407.50" stroke="#231f20" stroke-width="1.3"/>
<text x="73.30" y="411.00" font-size="11" text-anchor="end" font-weight="normal" fill="#231f20" >8</text>
<line x1="77.70" y1="387.75" x2="82.00" y2="387.75" stroke="#231f20" stroke-width="1.3"/>
<text x="73.30" y="391.25" font-size="11" text-anchor="end" font-weight="normal" fill="#231f20" >10</text>
<line x1="96.40" y1="486.50" x2="96.40" y2="490.80" stroke="#231f20" stroke-width="1.2"/>
<line x1="123.82" y1="486.50" x2="123.82" y2="490.80" stroke="#231f20" stroke-width="1.2"/>
<line x1="151.24" y1="486.50" x2="151.24" y2="490.80" stroke="#231f20" stroke-width="1.2"/>
<line x1="178.66" y1="486.50" x2="178.66" y2="490.80" stroke="#231f20" stroke-width="1.2"/>
<line x1="206.08" y1="486.50" x2="206.08" y2="490.80" stroke="#231f20" stroke-width="1.2"/>
<line x1="233.50" y1="486.50" x2="233.50" y2="490.80" stroke="#231f20" stroke-width="1.2"/>
<text transform="translate(102.70,500.10) rotate(-45)" font-size="10.5" text-anchor="end" fill="#231f20">Medium</text>
<text transform="translate(130.12,500.10) rotate(-45)" font-size="10.5" text-anchor="end" fill="#231f20">MetCCL5 (CCR1/5)</text>
<text transform="translate(157.54,500.10) rotate(-45)" font-size="10.5" text-anchor="end" fill="#231f20">Maraviroc (CCR5)</text>
<text transform="translate(184.96,500.10) rotate(-45)" font-size="10.5" text-anchor="end" fill="#231f20">BX471 (CCR1)</text>
<text transform="translate(212.38,500.10) rotate(-45)" font-size="10.5" text-anchor="end" fill="#231f20">Maraviroc+BX471 (CCR1/5)</text>
<text transform="translate(239.80,500.10) rotate(-45)" font-size="10.5" text-anchor="end" fill="#231f20">Vehicle</text>
<text transform="translate(51.199999999999996,480.2) rotate(-90)" font-size="12.5" fill="#231f20" stroke="#231f20" stroke-width="0.3" textLength="91.3" lengthAdjust="spacingAndGlyphs">Fold increase migration</text>
<line x1="94.80" y1="344.40" x2="208.70" y2="344.40" stroke="#231f20" stroke-width="1.2"/>
<line x1="94.80" y1="357.50" x2="179.60" y2="357.50" stroke="#231f20" stroke-width="1.2"/>
<line x1="94.80" y1="370.75" x2="146.30" y2="370.75" stroke="#231f20" stroke-width="1.2"/>
<line x1="94.80" y1="384.25" x2="120.60" y2="384.25" stroke="#231f20" stroke-width="1.2"/>
<path d="M149.40,336.60 L149.93,337.87 L151.30,337.98 L150.26,338.88 L150.58,340.22 L149.40,339.50 L148.22,340.22 L148.54,338.88 L147.50,337.98 L148.87,337.87Z" fill="#231f20"/>
<path d="M153.60,336.60 L154.13,337.87 L155.50,337.98 L154.46,338.88 L154.78,340.22 L153.60,339.50 L152.42,340.22 L152.74,338.88 L151.70,337.98 L153.07,337.87Z" fill="#231f20"/>
<path d="M137.30,350.00 L137.83,351.27 L139.20,351.38 L138.16,352.28 L138.48,353.62 L137.30,352.90 L136.12,353.62 L136.44,352.28 L135.40,351.38 L136.77,351.27Z" fill="#231f20"/>
<path d="M120.60,363.30 L121.13,364.57 L122.50,364.68 L121.46,365.58 L121.78,366.92 L120.60,366.20 L119.42,366.92 L119.74,365.58 L118.70,364.68 L120.07,364.57Z" fill="#231f20"/>
<path d="M105.30,376.50 L105.83,377.77 L107.20,377.88 L106.16,378.78 L106.48,380.12 L105.30,379.40 L104.12,380.12 L104.44,378.78 L103.40,377.88 L104.77,377.77Z" fill="#231f20"/>
<path d="M109.60,376.50 L110.13,377.77 L111.50,377.88 L110.46,378.78 L110.78,380.12 L109.60,379.40 L108.42,380.12 L108.74,378.78 L107.70,377.88 L109.07,377.77Z" fill="#231f20"/>
<line x1="348.80" y1="434.86" x2="348.80" y2="443.62" stroke="#231f20" stroke-width="1.3"/>
<line x1="342.05" y1="434.86" x2="355.55" y2="434.86" stroke="#231f20" stroke-width="1.3"/>
<rect x="334.80" y="443.62" width="28.00" height="43.98" fill="#c41f36" stroke="#1a1a1a" stroke-width="1.5"/>
<line x1="392.05" y1="464.75" x2="392.05" y2="467.04" stroke="#231f20" stroke-width="1.3"/>
<line x1="385.30" y1="464.75" x2="398.80" y2="464.75" stroke="#231f20" stroke-width="1.3"/>
<rect x="378.05" y="467.04" width="28.00" height="20.56" fill="#12538a" stroke="#1a1a1a" stroke-width="1.5"/>
<rect x="421.30" y="468.94" width="28.00" height="18.66" fill="#3bb34a" stroke="#1a1a1a" stroke-width="1.5"/>
<line x1="327.60" y1="391.75" x2="327.60" y2="488.35" stroke="#231f20" stroke-width="1.5"/>
<line x1="326.85" y1="487.60" x2="456.90" y2="487.60" stroke="#231f20" stroke-width="1.5"/>
<line x1="323.30" y1="487.60" x2="327.60" y2="487.60" stroke="#231f20" stroke-width="1.3"/>
<text x="318.60" y="491.10" font-size="11" text-anchor="end" font-weight="normal" fill="#231f20" >0</text>
<line x1="323.30" y1="468.56" x2="327.60" y2="468.56" stroke="#231f20" stroke-width="1.3"/>
<text x="318.60" y="472.06" font-size="11" text-anchor="end" font-weight="normal" fill="#231f20" >1</text>
<line x1="323.30" y1="449.52" x2="327.60" y2="449.52" stroke="#231f20" stroke-width="1.3"/>
<text x="318.60" y="453.02" font-size="11" text-anchor="end" font-weight="normal" fill="#231f20" >2</text>
<line x1="323.30" y1="430.48" x2="327.60" y2="430.48" stroke="#231f20" stroke-width="1.3"/>
<text x="318.60" y="433.98" font-size="11" text-anchor="end" font-weight="normal" fill="#231f20" >3</text>
<line x1="323.30" y1="411.44" x2="327.60" y2="411.44" stroke="#231f20" stroke-width="1.3"/>
<text x="318.60" y="414.94" font-size="11" text-anchor="end" font-weight="normal" fill="#231f20" >4</text>
<line x1="323.30" y1="392.40" x2="327.60" y2="392.40" stroke="#231f20" stroke-width="1.3"/>
<text x="318.60" y="395.90" font-size="11" text-anchor="end" font-weight="normal" fill="#231f20" >5</text>
<line x1="348.80" y1="487.60" x2="348.80" y2="491.90" stroke="#231f20" stroke-width="1.2"/>
<line x1="392.05" y1="487.60" x2="392.05" y2="491.90" stroke="#231f20" stroke-width="1.2"/>
<line x1="435.30" y1="487.60" x2="435.30" y2="491.90" stroke="#231f20" stroke-width="1.2"/>
<text transform="translate(354.70,501.20) rotate(-45)" font-size="10.5" text-anchor="end" fill="#231f20">OCI-Ly18</text>
<text transform="translate(397.95,501.20) rotate(-45)" font-size="10.5" text-anchor="end" fill="#231f20">OCI-Ly6</text>
<text transform="translate(441.20,501.20) rotate(-45)" font-size="10.5" text-anchor="end" fill="#231f20">Medium</text>
<text transform="translate(304.29999999999995,482.8) rotate(-90)" font-size="12.5" fill="#231f20" stroke="#231f20" stroke-width="0.3" textLength="85.3" lengthAdjust="spacingAndGlyphs">Fold increase invasion</text>
<line x1="347.00" y1="413.30" x2="398.80" y2="413.30" stroke="#231f20" stroke-width="1.2"/>
<path d="M372.60,405.60 L373.13,406.87 L374.50,406.98 L373.46,407.88 L373.78,409.22 L372.60,408.50 L371.42,409.22 L371.74,407.88 L370.70,406.98 L372.07,406.87Z" fill="#231f20"/>
<rect x="0.75" y="0.6" width="518.5" height="603.7" fill="none" stroke="#000" stroke-width="1.5"/>
</svg>
</body></html>
